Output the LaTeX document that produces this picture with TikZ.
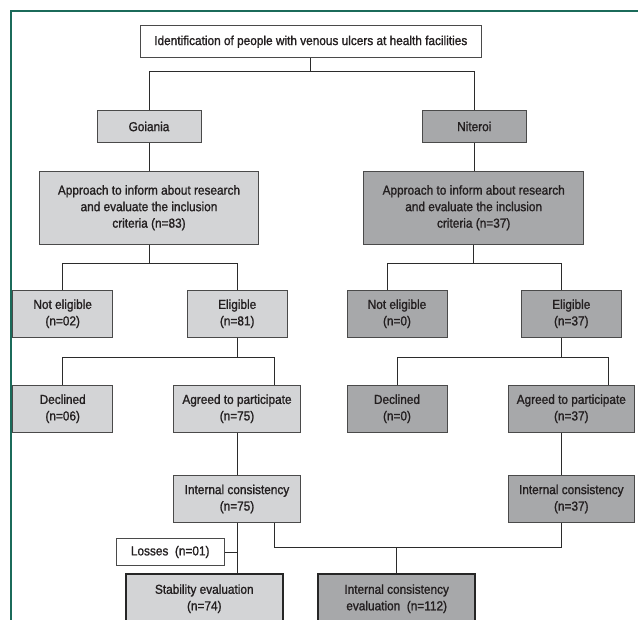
\documentclass[tikz,border=0pt]{standalone}
\usepackage{fontspec}
\setmainfont[FakeStretch=0.9]{Liberation Sans}
\newfontfamily\figfam[FakeStretch=0.91,FakeBold=1.2]{Liberation Sans}
\newcommand\figfont{\figfam\fontsize{13}{16.5}\selectfont}
\definecolor{lightfill}{HTML}{D3D4D6}
\definecolor{darkfill}{HTML}{A7A8AA}
\definecolor{boxline}{HTML}{4A4A4A}
\definecolor{connc}{HTML}{2B2B2B}
\definecolor{framec}{HTML}{1B6B5A}
\definecolor{textc}{HTML}{231F20}
\tikzset{
  box/.style={draw=boxline, line width=0.9pt, inner sep=0pt, align=center, font=\figfont, text=textc},
  lbox/.style={box, fill=lightfill},
  dbox/.style={box, fill=darkfill},
  wbox/.style={box, fill=white},
  heavy/.style={draw=black!85, line width=1.8pt},
  conn/.style={draw=connc, line width=0.9pt},
}
\begin{document}
\begin{tikzpicture}[x=1pt,y=-1pt]
\useasboundingbox (0,0) rectangle (638,620);
\clip (0,0) rectangle (638,620);
\fill[white] (0,0) rectangle (638,620);
% frame
\draw[framec, line width=1.2pt] (11,640) -- (11,11) -- (660,11);
% nodes
\node[wbox, minimum width=341, minimum height=32] (top) at (310.8,41.7) {Identification of people with venous ulcers at health facilities};
\node[lbox, minimum width=104, minimum height=32.4] (goi) at (149,126.5) {Goiania};
\node[dbox, minimum width=104, minimum height=32.4] (nit) at (474.3,126.5) {Niteroi};
\node[lbox, minimum width=219.4, minimum height=73] (appL) at (149,207.8) {Approach to inform about research\\and evaluate the inclusion\\criteria (n=83)};
\node[dbox, minimum width=220, minimum height=73] (appR) at (473.7,207.8) {Approach to inform about research\\and evaluate the inclusion\\criteria (n=37)};
\node[lbox, minimum width=100, minimum height=47] (neL) at (62.7,313.8) {Not eligible\\(n=02)};
\node[lbox, minimum width=100.3, minimum height=47] (elL) at (237.2,313.8) {Eligible\\(n=81)};
\node[dbox, minimum width=100, minimum height=47] (neR) at (397,313.8) {Not eligible\\(n=0)};
\node[dbox, minimum width=100, minimum height=47] (elR) at (571.3,313.8) {Eligible\\(n=37)};
\node[lbox, minimum width=100, minimum height=47] (decL) at (62.7,408.8) {Declined\\(n=06)};
\node[lbox, minimum width=126.6, minimum height=47] (agL) at (237,408.8) {Agreed to participate\\(n=75)};
\node[dbox, minimum width=100, minimum height=47] (decR) at (397,408.8) {Declined\\(n=0)};
\node[dbox, minimum width=126.7, minimum height=47] (agR) at (571.3,408.8) {Agreed to participate\\(n=37)};
\node[lbox, minimum width=126.6, minimum height=46.6] (icL) at (237,499) {Internal consistency\\(n=75)};
\node[dbox, minimum width=126.7, minimum height=46.6] (icR) at (571.3,499) {Internal consistency\\(n=37)};
\node[wbox, minimum width=107.7, minimum height=27.4] (loss) at (170.2,552) {Losses~~(n=01)};
\node[lbox, heavy, minimum width=156.7, minimum height=50] (stab) at (204.3,598.7) {Stability evaluation\\(n=74)};
\node[dbox, heavy, minimum width=157.3, minimum height=50] (ice) at (396.7,598.7) {Internal consistency\\evaluation~~(n=112)};
% connectors level 1
\coordinate (j0) at (311.3,71.3);
\draw[conn] (top.south) -- (top.south |- j0);
\draw[conn] (goi.north) -- (goi.north |- j0) -- (nit.north |- j0) -- (nit.north);
\draw[conn] (goi.south) -- (goi.south |- appL.north);
\draw[conn] (nit.south) -- (nit.south |- appR.north);
% level 2 left
\coordinate (j1) at (148.3,263.3);
\draw[conn] (appL.south) -- (appL.south |- j1);
\draw[conn] (neL.north) -- (neL.north |- j1) -- (elL.north |- j1) -- (elL.north);
% level 2 right
\coordinate (xneR) at (387,263.3);
\coordinate (xelR) at (561.3,263.3);
\draw[conn] (appR.south) -- (appR.south |- xneR);
\draw[conn] (xneR |- neR.north) -- (xneR) -- (xelR) -- (xelR |- elR.north);
% level 3 left
\coordinate (xagL) at (274.3,357.7);
\draw[conn] (elL.south) -- (elL.south |- xagL);
\draw[conn] (decL.north) -- (decL.north |- xagL) -- (xagL) -- (xagL |- agL.north);
% level 3 right
\coordinate (xelR2) at (561.3,357.7);
\coordinate (xagR) at (608.3,357.7);
\draw[conn] (xelR |- elR.south) -- (xelR2);
\draw[conn] (decR.north) -- (decR.north |- xagR) -- (xagR) -- (xagR |- agR.north);
% level 4
\draw[conn] (agL.south) -- (agL.south |- icL.north);
\coordinate (xicR) at (561.3,450);
\draw[conn] (xicR |- agR.south) -- (xicR |- icR.north);
% bottom
\draw[conn] (icL.south) -- (icL.south |- stab.north);
\draw[conn] (loss.east) -- (loss.east -| icL.south);
\coordinate (jl) at (274.3,547.7);
\coordinate (jr) at (561.3,547.7);
\draw[conn] (jl |- icL.south) -- (jl) -- (jr) -- (jr |- icR.south);
\draw[conn] (ice.north |- jl) -- (ice.north);
\end{tikzpicture}
\end{document}
